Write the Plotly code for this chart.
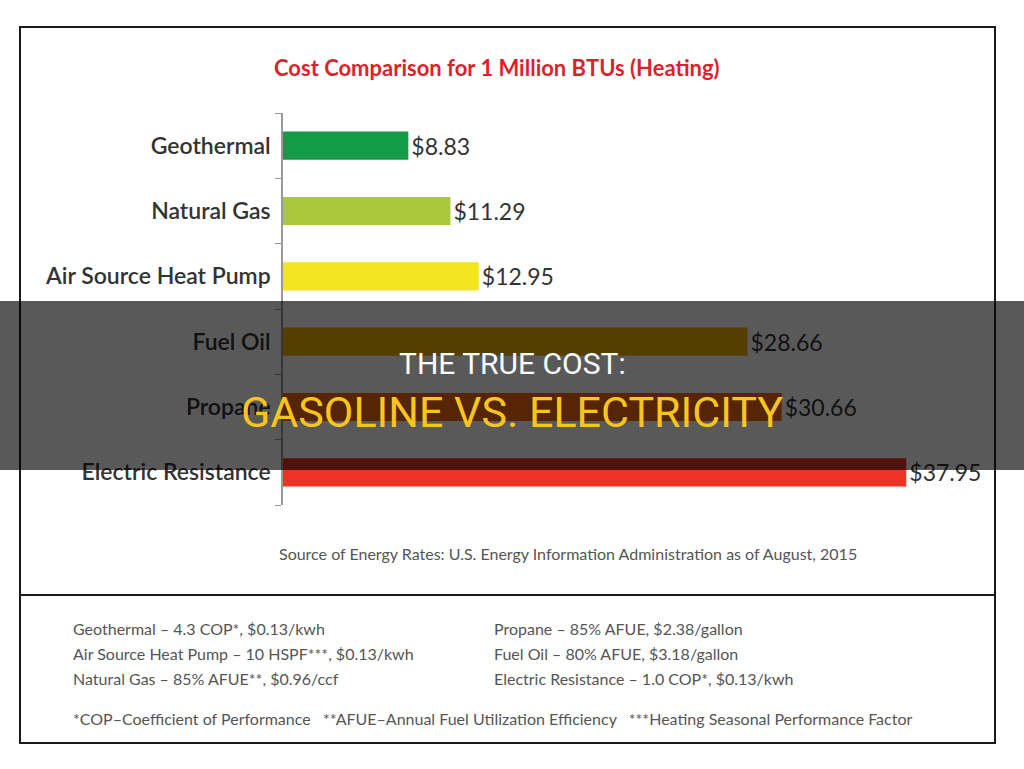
import plotly.graph_objects as go

categories = ["Geothermal", "Natural Gas", "Air Source Heat Pump", "Fuel Oil", "Propane", "Electric Resistance"]
costs = [8.83, 11.29, 12.95, 28.66, 30.66, 37.95]
bar_colors = ["#139b48", "#a9c83b", "#f1e61f", "#f7b200", "#f56a10", "#ee3226"]

title_text = "Cost Comparison for 1 Million BTUs (Heating)"
source_text = "Source of Energy Rates: U.S. Energy Information Administration as of August, 2015"
notes_left = ["Geothermal – 4.3 COP*, $0.13/kwh",
              "Air Source Heat Pump – 10 HSPF***, $0.13/kwh",
              "Natural Gas – 85% AFUE**, $0.96/ccf"]
notes_right = ["Propane – 85% AFUE, $2.38/gallon",
               "Fuel Oil – 80% AFUE, $3.18/gallon",
               "Electric Resistance – 1.0 COP*, $0.13/kwh"]
legend_note = "*COP–Coefficient of Performance   **AFUE–Annual Fuel Utilization Efficiency   ***Heating Seasonal Performance Factor"
overlay_line1 = "THE TRUE COST:"
overlay_line2 = "GASOLINE VS. ELECTRICITY"

W, H = 1024, 769
L, R, T, B = 283, 24, 113, 264
PW, PH = W - L - R, H - T - B
X0, SCALE = 1.5, 17.1


def px(x):
    return (x - L) / PW


def py(y):
    return (H - B - y) / PH


fig = go.Figure(go.Bar(
    x=costs, y=categories, orientation="h",
    marker=dict(color=bar_colors, line=dict(width=0)),
    width=0.43,
    text=["$%.2f" % c for c in costs],
    textposition="outside",
    constraintext="none",
    textfont=dict(family="Lato", size=23, color="#333333"),
    cliponaxis=True,
    hoverinfo="skip",
))

fig.update_layout(
    width=W, height=H,
    margin=dict(l=L, r=R, t=T, b=B),
    paper_bgcolor="white", plot_bgcolor="white",
    showlegend=False,
    xaxis=dict(range=[X0, X0 + PW / SCALE], visible=False, fixedrange=True),
    yaxis=dict(categoryorder="array", categoryarray=categories[::-1],
               showline=True, linecolor="#9a9a9a", linewidth=1.5,
               ticks="outside", tickson="boundaries", ticklen=6, tickcolor="#9a9a9a",
               tickfont=dict(family="Lato", size=23, color="#333333", weight=600),
               ticklabelstandoff=6, showgrid=False, fixedrange=True),
)

shapes = []
shapes.append(dict(type="rect", xref="paper", yref="paper",
                   x0=px(20), x1=px(995), y0=py(27), y1=py(743),
                   line=dict(color="#1a1a1a", width=2), fillcolor="rgba(0,0,0,0)", layer="below"))
shapes.append(dict(type="line", xref="paper", yref="paper",
                   x0=px(20), x1=px(995), y0=py(595), y1=py(595),
                   line=dict(color="#1a1a1a", width=2)))
shapes.append(dict(type="rect", xref="paper", yref="paper",
                   x0=px(0), x1=px(1024), y0=py(301), y1=py(470),
                   line=dict(width=0), fillcolor="rgba(0,0,0,0.65)", layer="above"))
fig.update_layout(shapes=shapes)

note_font = dict(family="Lato", size=16, color="#555555")
ann = []
ann.append(dict(text=title_text, x=px(497), y=py(68), xref="paper", yref="paper",
                showarrow=False, xanchor="center", yanchor="middle",
                font=dict(family="Lato", size=22, color="#e01f2d", weight="bold")))
ann.append(dict(text=source_text, x=px(277), y=py(553), xref="paper", yref="paper",
                showarrow=False, xanchor="left", yanchor="middle", font=note_font))
for i, t in enumerate(notes_left):
    ann.append(dict(text=t, x=px(71), y=py(628 + 25 * i), xref="paper", yref="paper",
                    showarrow=False, xanchor="left", yanchor="middle", font=note_font))
for i, t in enumerate(notes_right):
    ann.append(dict(text=t, x=px(492), y=py(628 + 25 * i), xref="paper", yref="paper",
                    showarrow=False, xanchor="left", yanchor="middle", font=note_font))
ann.append(dict(text=legend_note.replace("   ", "&nbsp;&nbsp;&nbsp;"), x=px(71), y=py(718),
                xref="paper", yref="paper",
                showarrow=False, xanchor="left", yanchor="middle", font=note_font))
ann.append(dict(text=overlay_line1, x=px(512), y=py(363), xref="paper", yref="paper",
                showarrow=False, xanchor="center", yanchor="middle",
                font=dict(family="Liberation Sans Narrow, Roboto", size=30, color="#ffffff")))
ann.append(dict(text=overlay_line2, x=px(512), y=py(412), xref="paper", yref="paper",
                showarrow=False, xanchor="center", yanchor="middle",
                font=dict(family="Liberation Sans Narrow, Roboto", size=43, color="#f7c51e")))
fig.update_layout(annotations=ann)

fig.write_html("out.html")
